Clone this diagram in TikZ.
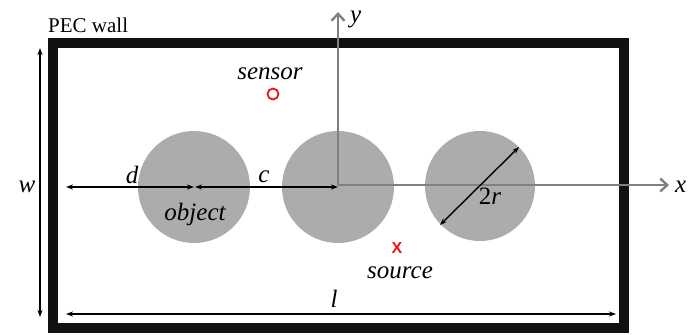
\documentclass[tikz,border=0pt]{standalone}
\usepackage{fontspec}
\setmainfont{Liberation Serif}
\setsansfont{Liberation Sans}
\usetikzlibrary{arrows.meta}
\definecolor{objgray}{RGB}{174,171,171}
\definecolor{axisgray}{RGB}{128,128,128}
\definecolor{wallblack}{RGB}{17,17,17}
\definecolor{mred}{RGB}{235,20,20}
\tikzset{
  dim/.style={line width=1.4pt, {Stealth[length=7pt,width=5pt]}-{Stealth[length=7pt,width=5pt]}},
  axisline/.style={line width=2.4pt, axisgray, -{Straight Barb[length=7pt,width=13pt,line width=2.4pt]}},
  obj/.style={circle, fill=objgray, minimum size=#1, inner sep=0pt},
  lab/.style={font=\fontsize{25}{28}\selectfont\itshape, inner sep=0pt},
}
\begin{document}
\begin{tikzpicture}[x=1pt,y=-1pt]
\useasboundingbox (0,0) rectangle (689,335);
% wall
\node[draw=wallblack, line width=10pt, minimum width=571pt, minimum height=285pt, inner sep=0pt] (wall) at (338.5,185.5) {};
\node[font=\fontsize{21}{24}\selectfont, anchor=base west, inner sep=0pt] (pec) at (48,32) {PEC wall};
% objects
\node[obj=112pt] (c1) at (194,187) {};
\node[obj=112pt] (c2) at (338,187) {};
\node[obj=110pt] (c3) at (480,186) {};
% axes
\coordinate (o) at (338,185);
\coordinate (xt) at (669,185);
\coordinate (yt) at (338,12);
\draw[axisline] (o) -- (xt);
\draw[axisline] (o) -- (yt);
\node[lab, anchor=west] (xl) at (675,187) {x};
\node[lab, anchor=west] (yl) at (350,19) {y};
% d and c
\coordinate (dl) at (66,187);
\coordinate (dr) at (194,187);
\coordinate (cl) at (195,187);
\coordinate (cr) at (338,187);
\draw[dim] (dl) -- (dr);
\draw[dim] (cl) -- (cr);
\node[lab] (dlab) at (132,175) {d};
\node[lab] (clab) at (264,177) {c};
\node[lab] (objl) at (195,214) {object};
% w
\coordinate (wt) at (40,48);
\coordinate (wb) at (40,317);
\draw[dim] (wt) -- (wb);
\node[lab] (wl) at (27,187) {w};
% l
\coordinate (ll) at (66,314);
\coordinate (lr) at (616,314);
\draw[dim] (ll) -- (lr);
\node[lab] (llab) at (334,299) {l};
% 2r
\coordinate (ra) at (440,225);
\coordinate (rb) at (519,147);
\draw[dim] (ra) -- (rb);
\node[lab, font=\fontsize{25}{28}\selectfont] (rl) at (490,196) {2\textit{r}};
% sensor
\node[circle, draw=mred, line width=1.8pt, minimum size=11pt, inner sep=0pt] (sensor) at (273,94) {};
\node[lab] (sl) at (270,74) {sensor};
% source
\node[text=mred, font=\sffamily\bfseries\fontsize{16}{17}\selectfont, inner sep=0pt] (source) at (397,248) {X};
\node[lab] (srcl) at (400,273) {source};
\end{tikzpicture}
\end{document}
